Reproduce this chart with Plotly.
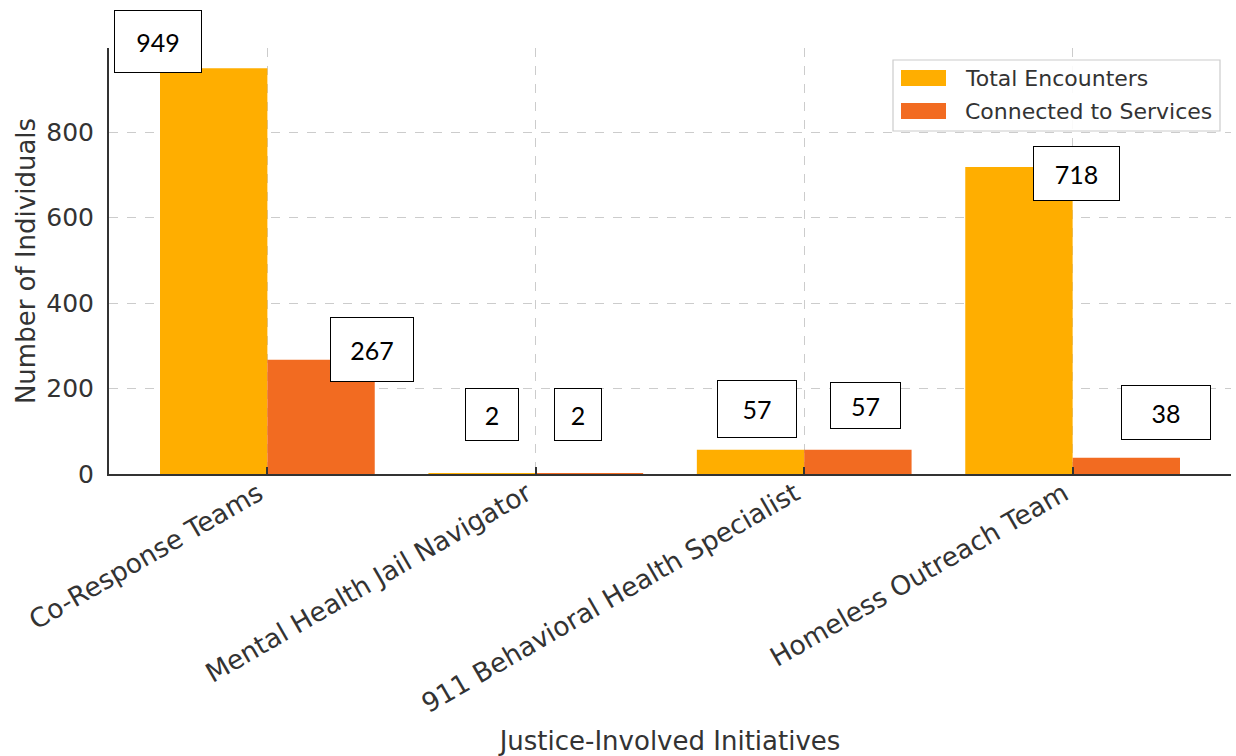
import plotly.graph_objects as go

categories = ["Co-Response Teams", "Mental Health Jail Navigator",
              "911 Behavioral Health Specialist", "Homeless Outreach Team"]
total_encounters = [949, 2, 57, 718]
connected_services = [267, 2, 57, 38]
y_ticks = [0, 200, 400, 600, 800]

# label box offsets (pixels) and sizes, styling only
total_lbl_shift = [(-56, 27), (10, 59), (6, 41), (58, -6)]
total_lbl_size = [(88, 63), (54, 53), (80, 58), (87, 55)]
conn_lbl_shift = [(51, 10), (-11, 59), (8, 44), (40, 45)]
conn_lbl_size = [(84, 65), (48, 53), (71, 47), (90, 55)]

YELLOW = "#FFAE00"
ORANGE = "#F26B21"
TXT = "#333333"

W, H = 1236, 756
L, R, T, B = 109, 1231, 48, 474

def px(x):
    return (x - L) / (R - L)

def py(y):
    return (B - y) / (B - T)

xpos = list(range(len(categories)))
bw = 0.4

fig = go.Figure()
fig.add_trace(go.Bar(x=[i - bw / 2 for i in xpos], y=total_encounters, width=bw,
                     marker=dict(color=YELLOW, line=dict(width=0)),
                     name="Total Encounters", showlegend=False))
fig.add_trace(go.Bar(x=[i + bw / 2 for i in xpos], y=connected_services, width=bw,
                     marker=dict(color=ORANGE, line=dict(width=0)),
                     name="Connected to Services", showlegend=False))

annotations = []
for vals, shifts, sizes, off in [(total_encounters, total_lbl_shift, total_lbl_size, -bw / 2),
                                 (connected_services, conn_lbl_shift, conn_lbl_size, bw / 2)]:
    for i, v in enumerate(vals):
        dx, dy = shifts[i]
        w, h = sizes[i]
        annotations.append(dict(
            x=i + off, y=v, xref="x", yref="y", text=str(v), showarrow=False,
            xshift=dx, yshift=dy, xanchor="center", yanchor="middle",
            width=w - 2, height=h - 2, borderpad=0, bgcolor="white",
            bordercolor="black", borderwidth=1,
            font=dict(family="Lato, Carlito, sans-serif", size=25, color="black")))

# legend (matplotlib-style)
shapes = [dict(type="rect", xref="paper", yref="paper",
               x0=px(893), x1=px(1220), y0=py(131), y1=py(60),
               fillcolor="rgba(255,255,255,0.9)", line=dict(color="#CCCCCC", width=1.2),
               layer="above")]
for (y0, y1, col) in [(70, 86, YELLOW), (103, 119, ORANGE)]:
    shapes.append(dict(type="rect", xref="paper", yref="paper",
                       x0=px(901), x1=px(946), y0=py(y1), y1=py(y0),
                       fillcolor=col, line=dict(width=0), layer="above"))
for (yc, name) in [(78, "Total Encounters"), (111, "Connected to Services")]:
    annotations.append(dict(x=px(963), y=py(yc), xref="paper", yref="paper",
                            text=name, showarrow=False, xanchor="left", yanchor="middle",
                            font=dict(family="DejaVu Sans", size=22, color=TXT)))

fig.update_layout(
    width=W, height=H,
    margin=dict(l=L, r=W - R, t=T, b=H - B),
    paper_bgcolor="white", plot_bgcolor="white",
    font=dict(family="DejaVu Sans", color=TXT),
    barmode="overlay",
    showlegend=False,
    annotations=annotations,
    shapes=shapes,
)
fig.update_xaxes(
    range=[-0.59, 3.59], tickmode="array", tickvals=xpos, ticktext=categories,
    tickangle=-30, tickfont=dict(size=26.5, color=TXT),
    ticklabelshift=-9, ticklabelstandoff=-8,
    showgrid=True, gridcolor="#CCCCCC", griddash="dash", gridwidth=1,
    showline=True, linecolor=TXT, linewidth=2,
    ticks="inside", ticklen=7, tickcolor=TXT, tickwidth=1.5,
    zeroline=False, automargin=False,
    title=dict(text="Justice-Involved Initiatives", font=dict(size=26, color=TXT), standoff=20),
)
fig.update_yaxes(
    range=[0, 996.5], tickmode="array", tickvals=y_ticks,
    tickfont=dict(size=25, color=TXT),
    showgrid=True, gridcolor="#CCCCCC", griddash="dash", gridwidth=1,
    showline=True, linecolor=TXT, linewidth=2,
    ticks="inside", ticklen=0, zeroline=False, automargin=False,
    ticklabelstandoff=8,
    title=dict(text="Number of Individuals", font=dict(size=26, color=TXT), standoff=3),
)

fig.write_html("out.html")
